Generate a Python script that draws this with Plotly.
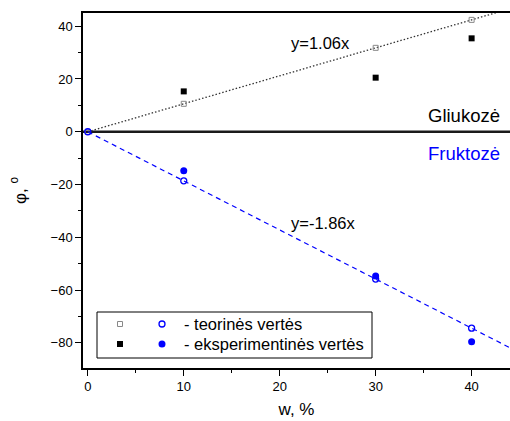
import plotly.graph_objects as go

# data
w = [0, 10, 30, 40]
gliukoze_teor = [0, 10.6, 31.8, 42.4]
gliukoze_eksp = [0, 15.3, 20.5, 35.4]
fruktoze_teor = [0, -18.6, -55.8, -74.4]
fruktoze_eksp = [0, -14.8, -54.6, -79.6]

slope_gl = 1.06
slope_fr = -1.86
fit_x = [0, 45]

W, H = 510, 421
L, R, T, B = 83, 0, 13, 53

def px(x):
    return (x - L) / (W - L - R)

def py(y):
    return (H - B - y) / (H - T - B)

FONT = "Liberation Sans, Arial, sans-serif"
BLUE = "#0000ff"

fig = go.Figure()

# zero line
fig.add_shape(type="line", xref="paper", yref="y", x0=0, x1=1, y0=0, y1=0,
              line=dict(color="#1a1a1a", width=2.5), layer="below")

# fitted lines
fig.add_trace(go.Scatter(x=fit_x, y=[slope_gl * x for x in fit_x], mode="lines",
                         line=dict(color="#333333", width=1.3, dash="1.5px,2px"), showlegend=False))
fig.add_trace(go.Scatter(x=fit_x, y=[slope_fr * x for x in fit_x], mode="lines",
                         line=dict(color=BLUE, width=1.2, dash="5px,4px"), showlegend=False))

# points
fig.add_trace(go.Scatter(x=w[1:], y=gliukoze_eksp[1:], mode="markers",
                         marker=dict(symbol="square", size=6, color="black"), showlegend=False))
fig.add_trace(go.Scatter(x=w, y=gliukoze_teor, mode="markers",
                         marker=dict(symbol="square-open", size=5, color="#888888", line=dict(width=1)),
                         showlegend=False))
fig.add_trace(go.Scatter(x=w[1:], y=fruktoze_eksp[1:], mode="markers",
                         marker=dict(symbol="circle", size=7, color=BLUE), showlegend=False))
fig.add_trace(go.Scatter(x=w, y=fruktoze_teor, mode="markers",
                         marker=dict(symbol="circle-open", size=6, color=BLUE, line=dict(width=1.3)),
                         showlegend=False))

# legend box drawn by hand (two symbols per row)
fig.add_shape(type="rect", xref="paper", yref="paper",
              x0=px(97), x1=px(372), y0=py(358), y1=py(312),
              line=dict(color="black", width=1), fillcolor="white", layer="above")
shapes_leg = [
    dict(type="rect", x0=px(117.5), x1=px(122.5), y0=py(326.5), y1=py(321.5),
         line=dict(color="#888888", width=1)),
    dict(type="circle", x0=px(159), x1=px(165), y0=py(327), y1=py(321),
         line=dict(color=BLUE, width=1.3)),
    dict(type="rect", x0=px(117), x1=px(123), y0=py(347), y1=py(341),
         line=dict(color="black", width=0), fillcolor="black"),
    dict(type="circle", x0=px(158.5), x1=px(165.5), y0=py(347.5), y1=py(340.5),
         line=dict(color=BLUE, width=0), fillcolor=BLUE),
]
for s in shapes_leg:
    fig.add_shape(xref="paper", yref="paper", layer="above", **s)

ann = [
    dict(text="- teorinės vertės", x=px(182), y=py(324)),
    dict(text="- eksperimentinės vertės", x=px(182), y=py(344)),
]
for a in ann:
    fig.add_annotation(xref="paper", yref="paper", xanchor="left", yanchor="middle",
                       showarrow=False, font=dict(family=FONT, size=16.5, color="black"), **a)

fig.add_annotation(text="y=1.06x", x=24.2, y=33.5, showarrow=False,
                   font=dict(family=FONT, size=16.5, color="black"))
fig.add_annotation(text="y=-1.86x", x=24.5, y=-34.7, showarrow=False,
                   font=dict(family=FONT, size=16.5, color="black"))
fig.add_annotation(text="Gliukozė", x=43.2, y=6.2, xanchor="right", showarrow=False,
                   font=dict(family=FONT, size=18.5, color="black"))
fig.add_annotation(text="Fruktozė", x=43.2, y=-8.4, xanchor="right", showarrow=False,
                   font=dict(family=FONT, size=18.5, color=BLUE))

fig.update_layout(
    width=W, height=H,
    margin=dict(l=L, r=R, t=T, b=B, autoexpand=False),
    plot_bgcolor="white", paper_bgcolor="white",
    font=dict(family=FONT, size=13, color="black"),
    showlegend=False,
)
fig.update_xaxes(
    range=[-0.5, 44], showgrid=False, zeroline=False, automargin=False,
    showline=True, linecolor="black", linewidth=1.5, mirror=True,
    ticks="outside", ticklen=6, tickwidth=1, tickcolor="black",
    tick0=0, dtick=10, minor=dict(ticks="outside", ticklen=3, dtick=5, tickcolor="black"),
    title=dict(text="w, %", font=dict(size=17), standoff=10),
)
fig.update_yaxes(
    range=[-89.5, 45], showgrid=False, zeroline=False, automargin=False,
    showline=True, linecolor="black", linewidth=1.5,
    ticks="outside", ticklen=6, tickwidth=1, tickcolor="black",
    tick0=0, dtick=20, minor=dict(ticks="outside", ticklen=3, dtick=10, tickcolor="black"),
    title=dict(text="φ, <sup>o</sup>", font=dict(size=17), standoff=20),
)

# page body margin would shift the figure by 8px
fig.write_html("out.html", config={"displayModeBar": False},
               post_script="document.body.style.margin='0';")
